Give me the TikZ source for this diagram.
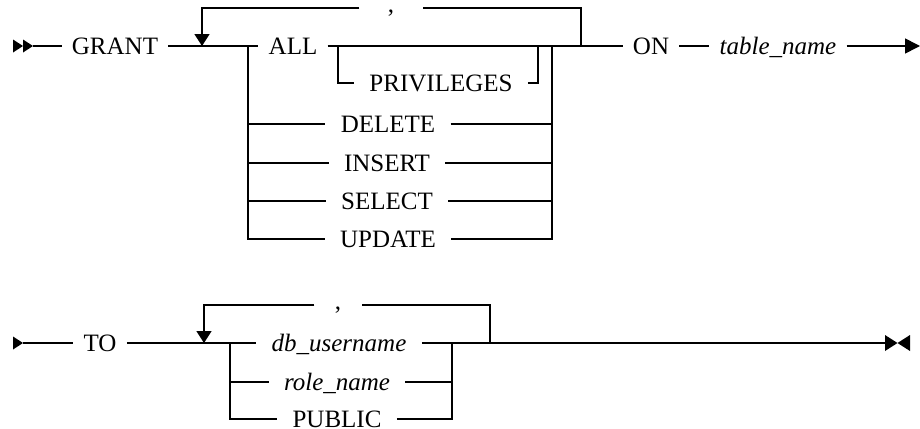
\documentclass[tikz,border=0pt]{standalone}
\usepackage{fontspec}
\setmainfont{Liberation Serif}
\usepackage{tikz}
\usetikzlibrary{arrows.meta}
\tikzset{kw/.style={font=\fontsize{12.5}{15}\selectfont, inner xsep=5pt, inner ysep=0pt, text height=8.3pt, text depth=0pt}}
\tikzset{choice/.style={kw, inner xsep=7.5pt}}
\tikzset{listsep/.style={kw, text height=4pt, inner xsep=#1}}
\tikzset{edge/.style={line width=0.8pt}}
\tikzset{loopback/.style={edge, -{Triangle[length=6pt,width=7.5pt]}}}
\tikzset{endarc/.style={edge, -{Triangle[length=7.5pt,width=7.5pt]}}}
\begin{document}
\begin{tikzpicture}
[x=0.5pt,y=-0.5pt]
\useasboundingbox (0,0) rectangle (920,428);
%syntax diagram of the GRANT statement, first row privileges, second row grantees
\coordinate (s1) at (33,46);
\coordinate (loop1) at (202,46);
\coordinate (bl1) at (248,46);
\coordinate (pl) at (338,46);
\coordinate (pr) at (538,46);
\coordinate (br1) at (552,46);
\coordinate (loop1r) at (581,46);
\coordinate (e1) at (920,46);
\node (grant) at (115,46)[kw]{GRANT};
\node (all) at (293,46)[kw]{ALL};
\node (priv) at (441,83)[choice]{PRIVILEGES};
\node (delete) at (388,124)[choice]{DELETE};
\node (insert) at (387,163)[choice]{INSERT};
\node (select) at (387,201)[choice]{SELECT};
\node (update) at (388,239)[choice]{UPDATE};
\node (comma1) at (391,8)[listsep=14pt]{,};
\node (on) at (651,46)[kw]{ON};
\node (tname) at (778,46)[kw]{\itshape table\_name};
\fill (13,39.5) -- (23,46) -- (13,52.5) -- cycle;
\fill (23,39.5) -- (33,46) -- (23,52.5) -- cycle;
\draw[edge] (s1) -- (grant);
\draw[edge] (grant) -- (all);
\draw[edge] (all) -- (on);
\draw[edge] (on) -- (tname);
\draw[endarc] (tname) -- (e1);
\draw[edge] (loop1r) |- (comma1);
\draw[loopback] (comma1) -| (loop1);
\draw[edge] (pl) |- (priv);
\draw[edge] (priv) -| (pr);
\draw[edge] (bl1) |- (update);
\draw[edge] (update) -| (br1);
\foreach \n in {delete,insert,select}{
\draw[edge] (bl1 |- \n) -- (\n);
\draw[edge] (\n) -- (br1 |- \n);
}
\coordinate (s2) at (23,343);
\coordinate (loop2) at (204,343);
\coordinate (bl2) at (230,343);
\coordinate (br2) at (452,343);
\coordinate (loop2r) at (490,343);
\coordinate (e2) at (885,343);
\node (to) at (100,343)[kw]{TO};
\node (dbuser) at (339,343)[choice]{\itshape db\_username};
\node (role) at (337,382)[choice]{\itshape role\_name};
\node (public) at (337,419)[choice]{PUBLIC};
\node (comma2) at (338,305)[listsep=10pt]{,};
\fill (13,336.5) -- (23,343) -- (13,349.5) -- cycle;
\draw[edge] (s2) -- (to);
\draw[edge] (to) -- (dbuser);
\draw[edge] (dbuser) -- (e2);
\draw[edge] (loop2r) |- (comma2);
\draw[loopback] (comma2) -| (loop2);
\draw[edge] (bl2) |- (public);
\draw[edge] (public) -| (br2);
\draw[edge] (bl2 |- role) -- (role);
\draw[edge] (role) -- (br2 |- role);
\fill (885,335) -- (897.5,343) -- (885,351) -- cycle;
\fill (910,335) -- (897.5,343) -- (910,351) -- cycle;
\end{tikzpicture}
\end{document}
